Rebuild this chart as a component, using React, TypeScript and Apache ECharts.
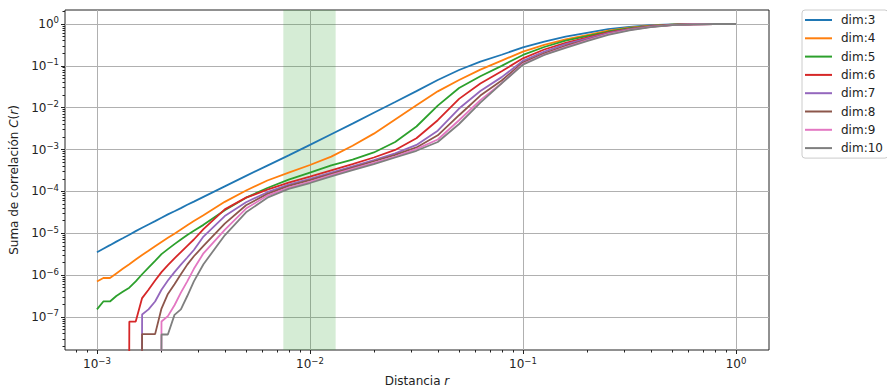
import React, { useEffect, useRef } from "react";
import * as echarts from "echarts";

// Correlation sum C(r) against distance r, on log–log axes.
// Abscissa: log10(r). Fine 100-point log grid at the low end, tenth of a decade after.
const logR = [
  -3.0, -2.97, -2.939, -2.909, -2.879, -2.848, -2.818, -2.788, -2.758, -2.727,
  -2.697, -2.667, -2.636, -2.606, -2.576, -2.545,
  -2.5, -2.4, -2.3, -2.2, -2.1, -2.0, -1.9, -1.8, -1.7, -1.6, -1.5, -1.4, -1.3,
  -1.2, -1.1, -1.0, -0.9, -0.8, -0.7, -0.6, -0.5, -0.4, -0.3, -0.2, -0.1, 0.0,
];

// log10 C(r) per embedding dimension; null = no pairs counted (C = 0).
const logC3 = [
  -5.454, -5.37, -5.285, -5.2, -5.12, -5.035, -4.95, -4.87, -4.79, -4.71,
  -4.63, -4.55, -4.475, -4.4, -4.32, -4.245,
  -4.13, -3.88, -3.63, -3.385, -3.14, -2.89, -2.635, -2.38, -2.12, -1.865, -1.605, -1.34, -1.1,
  -0.9, -0.735, -0.56, -0.42, -0.3, -0.21, -0.125, -0.067, -0.03, -0.01, -0.003, -0.001, 0,
];
const logC4 = [
  -6.155, -6.07, -6.07, -5.96, -5.85, -5.74, -5.63, -5.52, -5.42, -5.31,
  -5.21, -5.11, -5.01, -4.91, -4.81, -4.71,
  -4.57, -4.25, -3.98, -3.74, -3.55, -3.37, -3.17, -2.91, -2.62, -2.28, -1.94, -1.61, -1.34,
  -1.09, -0.875, -0.66, -0.5, -0.37, -0.265, -0.16, -0.09, -0.04, -0.015, -0.004, -0.001, 0,
];
const logC5 = [
  -6.82, -6.63, -6.63, -6.5, -6.4, -6.3, -6.15, -5.98, -5.82, -5.66,
  -5.5, -5.38, -5.26, -5.15, -5.04, -4.94,
  -4.8, -4.45, -4.15, -3.92, -3.72, -3.55, -3.38, -3.24, -3.07, -2.82, -2.45, -1.95, -1.53,
  -1.25, -1.0, -0.74, -0.55, -0.4, -0.29, -0.18, -0.1, -0.05, -0.018, -0.005, -0.001, 0,
];
const logC6 = [
  null, null, null, null, null, -7.11, -7.11, -6.55, -6.35, -6.13,
  -5.93, -5.76, -5.6, -5.45, -5.3, -5.15,
  -4.9, -4.43, -4.15, -3.96, -3.79, -3.65, -3.5, -3.35, -3.19, -3.01, -2.73, -2.3, -1.79,
  -1.42, -1.13, -0.82, -0.61, -0.45, -0.325, -0.2, -0.115, -0.055, -0.02, -0.006, -0.001, 0,
];
const logC7 = [
  null, null, null, null, null, null, null, -6.94, -6.82, -6.63,
  -6.35, -6.13, -5.93, -5.75, -5.58, -5.4,
  -5.08, -4.59, -4.26, -4.02, -3.84, -3.7, -3.55, -3.4, -3.25, -3.09, -2.89, -2.55, -2.02,
  -1.6, -1.27, -0.88, -0.66, -0.48, -0.35, -0.22, -0.125, -0.06, -0.022, -0.006, -0.001, 0,
];
const logC8 = [
  null, null, null, null, null, null, null, -7.41, -7.41, -7.41,
  -6.8, -6.45, -6.22, -5.98, -5.75, -5.55,
  -5.3, -4.77, -4.33, -4.06, -3.87, -3.73, -3.58, -3.43, -3.28, -3.13, -2.95, -2.66, -2.18,
  -1.71, -1.35, -0.92, -0.7, -0.52, -0.38, -0.235, -0.135, -0.065, -0.024, -0.007, -0.001, 0,
];
const logC9 = [
  null, null, null, null, null, null, null, null, null, null,
  -7.11, -6.98, -6.72, -6.42, -6.15, -5.85,
  -5.48, -4.92, -4.41, -4.1, -3.91, -3.77, -3.61, -3.46, -3.32, -3.17, -2.99, -2.76, -2.3,
  -1.82, -1.415, -0.95, -0.73, -0.55, -0.39, -0.245, -0.14, -0.07, -0.026, -0.007, -0.001, 0,
];
const logC10 = [
  null, null, null, null, null, null, null, null, null, null,
  -7.42, -7.42, -6.95, -6.82, -6.5, -6.15,
  -5.74, -5.05, -4.5, -4.15, -3.94, -3.8, -3.64, -3.49, -3.35, -3.19, -3.03, -2.82, -2.39,
  -1.88, -1.42, -0.97, -0.74, -0.57, -0.41, -0.26, -0.15, -0.075, -0.028, -0.008, -0.001, 0,
];

const seriesNames = ["dim:3", "dim:4", "dim:5", "dim:6", "dim:7", "dim:8", "dim:9", "dim:10"];
const seriesValues = [logC3, logC4, logC5, logC6, logC7, logC8, logC9, logC10];
const seriesColors = [
  "#1f77b4", "#ff7f0e", "#2ca02c", "#d62728",
  "#9467bd", "#8c564b", "#e377c2", "#7f7f7f",
];

// Highlighted scaling region in r
const bandR = [0.0075, 0.0132];

// Decade ticks (exponents)
const xDecades = [-3, -2, -1, 0];
const yDecades = [-7, -6, -5, -4, -3, -2, -1, 0];

const X_MIN = -3.15;
const X_MAX = 0.155;
const Y_MIN = -7.79;
const Y_MAX = 0.334;
// where C = 0 the curve falls off the bottom of a log axis
const FLOOR = -60;

const FONT = "DejaVu Sans";
const INK = "#222";

function minorLogTicks(lo: number, hi: number): number[] {
  const out: number[] = [];
  for (let n = Math.floor(lo) - 1; n <= Math.ceil(hi); n++) {
    for (let k = 2; k <= 9; k++) {
      const v = n + Math.log10(k);
      if (v > lo && v < hi) out.push(v);
    }
  }
  return out;
}

const powLabel = (v: number) => {
  const e = Math.round(v);
  return `{b|10}{s|${e < 0 ? "\u2212" : ""}${Math.abs(e)}}`;
};

const powRich = {
  b: { fontFamily: FONT, fontSize: 12, lineHeight: 16, color: INK },
  s: { fontFamily: FONT, fontSize: 8.5, lineHeight: 9, verticalAlign: "top", color: INK },
};

export default function App() {
  const ref = useRef<HTMLDivElement | null>(null);

  useEffect(() => {
    document.body.style.margin = "0";
    if (!ref.current) return;
    const chart = echarts.init(ref.current, undefined, { renderer: "svg" });

    const lineSeries = seriesNames.map((name, i) => ({
      type: "line",
      name,
      xAxisIndex: 0,
      yAxisIndex: 0,
      data: logR.map((x, j) => {
        const v = seriesValues[i][j];
        return [x, v === null ? FLOOR : v];
      }),
      showSymbol: false,
      symbol: "none",
      clip: true,
      z: 3,
      lineStyle: { color: seriesColors[i], width: 1.8 },
      itemStyle: { color: seriesColors[i] },
      emphasis: { disabled: true },
    }));

    const bandSeries = {
      type: "line",
      name: "band",
      xAxisIndex: 0,
      yAxisIndex: 0,
      data: [],
      silent: true,
      markArea: {
        silent: true,
        z: 1,
        itemStyle: { color: "rgba(44,160,44,0.2)" },
        data: [[{ xAxis: Math.log10(bandR[0]) }, { xAxis: Math.log10(bandR[1]) }]],
      },
    };

    const tickLine = { color: INK, width: 1 };

    chart.setOption({
      animation: false,
      grid: {
        left: 65,
        right: 118,
        top: 10,
        bottom: 40,
        show: true,
        borderColor: INK,
        borderWidth: 1,
        backgroundColor: "transparent",
        containLabel: false,
        outerBoundsMode: "none",
      },
      legend: {
        orient: "vertical",
        left: 802,
        top: 10,
        icon: "rect",
        itemWidth: 27,
        itemHeight: 2,
        itemGap: 0.3,
        padding: [1, 5, 1, 3],
        backgroundColor: "#ffffff",
        borderColor: "#cccccc",
        borderWidth: 1,
        borderRadius: 3,
        selectedMode: false,
        data: seriesNames,
        textStyle: {
          fontFamily: FONT,
          fontSize: 12,
          color: INK,
          lineHeight: 18,
          padding: [0, 0, 0, 4],
        },
      },
      xAxis: [
        {
          type: "value",
          min: X_MIN,
          max: X_MAX,
          position: "bottom",
          axisLine: { show: false, onZero: false },
          axisTick: { show: true, customValues: xDecades, length: 4, lineStyle: tickLine },
          axisLabel: {
            customValues: xDecades,
            formatter: powLabel,
            rich: powRich,
            margin: 6,
          },
          splitLine: { show: true, lineStyle: { color: "#b0b0b0", width: 1 } },
          name: "Distancia {i|r}",
          nameLocation: "middle",
          nameGap: 24,
          nameTextStyle: {
            fontFamily: FONT,
            fontSize: 12,
            color: INK,
            rich: { i: { fontFamily: FONT, fontSize: 12, fontStyle: "italic", color: INK } },
          },
        },
        {
          type: "value",
          min: X_MIN,
          max: X_MAX,
          position: "bottom",
          axisLine: { show: false, onZero: false },
          axisTick: {
            show: true,
            customValues: minorLogTicks(X_MIN, X_MAX),
            length: 2.5,
            lineStyle: tickLine,
          },
          axisLabel: { show: false },
          splitLine: { show: false },
        },
      ],
      yAxis: [
        {
          type: "value",
          min: Y_MIN,
          max: Y_MAX,
          position: "left",
          axisLine: { show: false, onZero: false },
          axisTick: { show: true, customValues: yDecades, length: 4, lineStyle: tickLine },
          axisLabel: {
            customValues: yDecades,
            formatter: powLabel,
            rich: powRich,
            margin: 6,
          },
          splitLine: { show: true, lineStyle: { color: "#b0b0b0", width: 1 } },
          name: "Suma de correlación {i|C}({i|r})",
          nameLocation: "middle",
          nameGap: 41,
          nameTextStyle: {
            fontFamily: FONT,
            fontSize: 12,
            color: INK,
            rich: { i: { fontFamily: FONT, fontSize: 12, fontStyle: "italic", color: INK } },
          },
        },
        {
          type: "value",
          min: Y_MIN,
          max: Y_MAX,
          position: "left",
          offset: 0,
          axisLine: { show: false, onZero: false },
          axisTick: {
            show: true,
            customValues: minorLogTicks(Y_MIN, Y_MAX),
            length: 2.5,
            lineStyle: tickLine,
          },
          axisLabel: { show: false },
          splitLine: { show: false },
        },
      ],
      series: [bandSeries, ...lineSeries],
    });

    return () => chart.dispose();
  }, []);

  return (
    <div
      ref={ref}
      style={{ position: "fixed", left: 0, top: 0, width: 887, height: 390, background: "#fff" }}
    />
  );
}
